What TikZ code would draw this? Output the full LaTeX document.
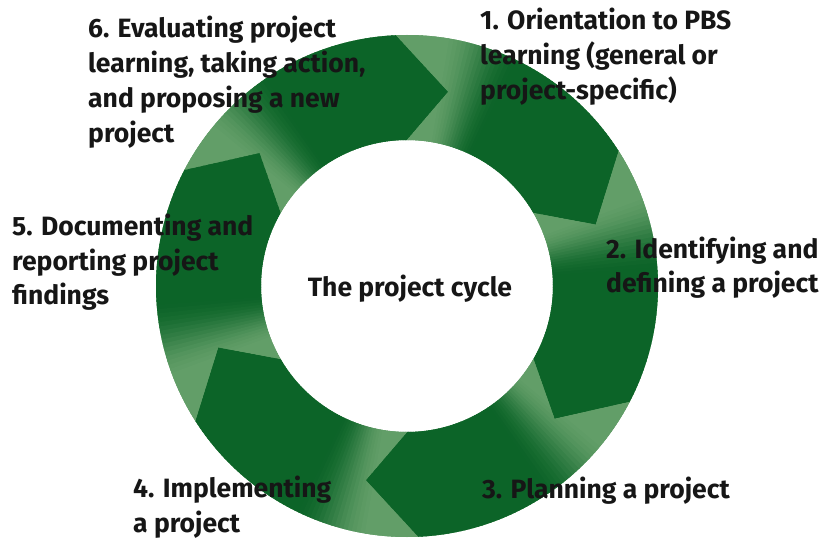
\documentclass[tikz,border=0pt]{standalone}
\usepackage{fontspec}
\setmainfont{Fira Sans}
\definecolor{ringlight}{RGB}{98,158,104}
\definecolor{ringdark}{RGB}{12,100,40}
\definecolor{labelink}{RGB}{22,22,22}

\tikzset{
  steplabel/.style={anchor=base west, align=left, inner sep=0pt,
    font=\bfseries\fontsize{26.5}{35}\selectfont, text=labelink},
}

\begin{document}
\begin{tikzpicture}[x=1pt,y=1pt]
\useasboundingbox (0,0) rectangle (825,539);
\fill[white] (0,0) rectangle (825,539);

% the cycle ring: six chevron arrows running clockwise, each shaded
% from a light tail to a dark head
\begin{scope}[shift={(407,253)}]
  \def\Ro{251}
  \def\Ri{146}
  \def\Rm{198.5}
  \fill[ringlight, even odd rule] (0,0) circle (\Ro) (0,0) circle (\Ri);
  \foreach \k in {0,...,5}{
    \pgfmathsetmacro\tip{78-60*\k}
    \begin{scope}
      \clip (\tip+74.5:\Ro) arc[start angle=\tip+74.5, end angle=\tip+14.5, radius=\Ro]
        -- (\tip:\Rm) -- (\tip+12:\Ri)
        arc[start angle=\tip+12, end angle=\tip+72, radius=\Ri]
        -- (\tip+60:\Rm) -- cycle;
      \foreach \s in {-2,...,76}{
        \pgfmathsetmacro\t{min(1,max(0,(64-\s)/18))}
        \pgfmathtruncatemacro\f{100*\t*\t*(3-2*\t)}
        \fill[ringdark!\f!ringlight] (0,0) -- (\tip+\s-0.7:270) -- (\tip+\s+0.7:270) -- cycle;
      }
    \end{scope}
  }
\end{scope}

% stage labels (anchored at the baseline of their last line)
\node[steplabel] (s6) at (88,396) {6. Evaluating project\\learning, taking action,\\and proposing a new\\project};
\node[steplabel] (s1) at (480,439) {1. Orientation to PBS\\learning (general or\\project-specific)};
\node[steplabel] (s2) at (606,246) {2. Identifying and\\defining a project};
\node[steplabel] (s3) at (482,41) {3. Planning a project};
\node[steplabel] (s4) at (133,7) {4. Implementing\\a project};
\node[steplabel] (s5) at (12,234) {5. Documenting and\\reporting project\\findings};
\node[steplabel, anchor=base] (hub) at (410,242) {The project cycle};
\end{tikzpicture}
\end{document}
